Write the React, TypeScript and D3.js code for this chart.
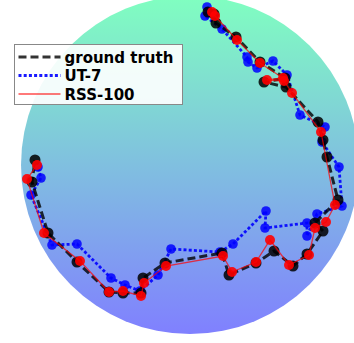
import React, { useRef, useEffect } from 'react';
import * as d3 from 'd3';

// positions in metres, origin at the centre of the arena disk
const groundTruth: [number, number][] = [
    [1.8, 15.3], [2.4, 15.1], [2.6, 14.2], [4.6, 12.8], [7.0, 10.3], [9.5, 8.7],
    [7.4, 8.3], [9.6, 7.8], [12.8, 4.3], [13.3, 2.5], [13.7, 0.8], [14.8, -3.5],
    [12.5, -5.8], [13.3, -6.6], [11.7, -8.9], [10.3, -10.1], [8.4, -8.6], [6.6, -9.8],
    [3.9, -11.0], [3.2, -8.8], [-2.5, -9.8], [-4.7, -11.3], [-4.9, -12.8], [-6.7, -12.8],
    [-8.1, -12.7], [-11.3, -9.7], [-14.2, -6.8], [-15.8, -1.7], [-15.5, 0.5],
];

const ut7: [number, number][] = [
    [1.7, 15.8], [1.5, 14.9], [3.2, 13.6], [5.7, 10.8], [5.8, 10.3], [6.7, 9.7],
    [8.3, 10.4], [9.7, 9.0], [11.0, 5.0], [13.5, 3.8], [13.2, 2.3], [14.9, -0.2],
    [15.2, -4.1], [12.7, -4.9], [11.7, -7.1], [11.7, -5.8], [7.5, -6.3], [7.6, -4.6],
    [4.3, -7.9], [3.0, -8.7], [-1.9, -8.4], [-3.2, -11.0], [-5.0, -12.6], [-6.5, -12.0],
    [-7.9, -11.3], [-11.3, -7.9], [-13.8, -8.0], [-15.9, -3.0], [-14.9, -1.3], [-15.2, -0.2],
];

const rss100: [number, number][] = [
    [2.2, 15.3], [2.5, 14.9], [4.7, 12.5], [7.0, 10.2], [9.3, 8.7], [7.7, 8.5],
    [9.4, 8.4], [10.2, 7.2], [13.1, 3.3], [14.5, -4.0], [13.6, -5.7], [12.5, -6.3],
    [11.9, -9.0], [9.9, -10.0], [8.0, -7.5], [6.6, -9.7], [4.2, -10.7], [3.3, -9.1],
    [-2.4, -10.1], [-4.6, -11.8], [-4.9, -13.1], [-6.7, -12.6], [-8.1, -12.7],
    [-11.0, -9.6], [-14.6, -6.8], [-16.3, -1.4], [-15.3, 0.0],
];

const arenaRadius = 16.9;
const legendLabels = ['ground truth', 'UT-7', 'RSS-100'];

export default function App() {
    const svgRef = useRef<SVGSVGElement | null>(null);

    useEffect(() => {
        if (!svgRef.current) return;
        const svg = d3.select(svgRef.current);
        svg.selectAll("*").remove();

        const x = d3.scaleLinear().domain([-arenaRadius, arenaRadius]).range([21, 359]);
        const y = d3.scaleLinear().domain([-arenaRadius, arenaRadius]).range([334, -4]);

        const grad = svg.append("defs").append("linearGradient")
            .attr("id", "winter")
            .attr("x1", 0).attr("y1", 0).attr("x2", 0).attr("y2", 1);
        grad.append("stop").attr("offset", "0%").attr("stop-color", "#80ffc0");
        grad.append("stop").attr("offset", "100%").attr("stop-color", "#8080ff");

        svg.append("circle")
            .attr("cx", x(0))
            .attr("cy", y(0))
            .attr("r", x(arenaRadius) - x(0))
            .attr("fill", "url(#winter)");

        const line = d3.line<[number, number]>().x(d => x(d[0])).y(d => y(d[1]));

        const styles = [
            { data: ut7, color: "#0000ff", width: 2.8, dash: "3,2.2", lineOpacity: 0.9, r: 4.8, dotOpacity: 0.85 },
            { data: groundTruth, color: "#000000", width: 3, dash: "8,4", lineOpacity: 0.8, r: 5.5, dotOpacity: 0.85 },
            { data: rss100, color: "#ff0000", width: 1.3, dash: null, lineOpacity: 0.7, r: 5, dotOpacity: 0.9 },
        ];

        styles.forEach(s => {
            const g = svg.append("g");
            g.append("path")
                .attr("d", line(s.data))
                .attr("fill", "none")
                .attr("stroke", s.color)
                .attr("stroke-width", s.width)
                .attr("stroke-opacity", s.lineOpacity)
                .attr("stroke-dasharray", s.dash);
            g.selectAll("circle")
                .data(s.data)
                .enter().append("circle")
                .attr("cx", d => x(d[0]))
                .attr("cy", d => y(d[1]))
                .attr("r", s.r)
                .attr("fill", s.color)
                .attr("fill-opacity", s.dotOpacity);
        });

        // Legend
        const legendOrder = [styles[1], styles[0], styles[2]];
        const legend = svg.append("g").attr("transform", "translate(14.5,44.5)");
        legend.append("rect")
            .attr("width", 168)
            .attr("height", 60)
            .attr("fill", "#ffffff")
            .attr("fill-opacity", 0.9)
            .attr("stroke", "#888888")
            .attr("stroke-width", 1);

        const items = legend.selectAll(".legend-item")
            .data(legendLabels)
            .enter().append("g")
            .attr("class", "legend-item")
            .attr("transform", (d, i) => `translate(0,${12.5 + i * 18.5})`);

        items.append("line")
            .attr("x1", 4).attr("x2", 46)
            .attr("stroke", (d, i) => legendOrder[i].color)
            .attr("stroke-width", (d, i) => legendOrder[i].width)
            .attr("stroke-opacity", (d, i) => legendOrder[i].lineOpacity)
            .attr("stroke-dasharray", (d, i) => legendOrder[i].dash);

        items.append("text")
            .attr("x", 50)
            .attr("y", 5.5)
            .text(d => d)
            .attr("fill", "#000")
            .style("font-family", "'DejaVu Sans', sans-serif")
            .style("font-weight", "bold")
            .style("font-size", "15px");
    }, []);

    return (
        <div style={{ position: 'absolute', left: 0, top: 0, width: 354, height: 343 }}>
            <svg ref={svgRef} width={354} height={343} style={{ display: 'block' }}></svg>
        </div>
    );
}
